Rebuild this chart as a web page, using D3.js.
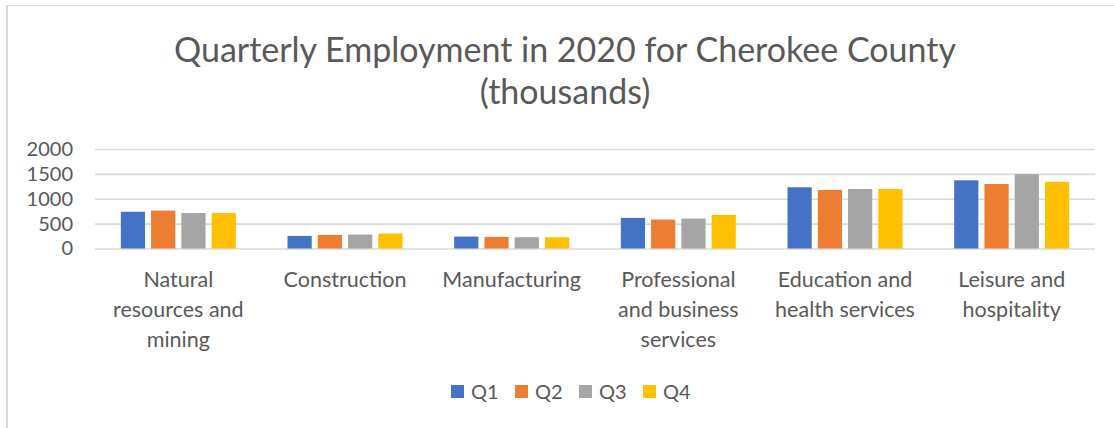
<!DOCTYPE html>
<html>
<head>
<meta charset="utf-8">
<script src="https://cdn.jsdelivr.net/npm/d3@7"></script>
<style>
  body { margin: 0; background: #fff; }
  svg { display: block; font-family: Lato, "Open Sans", sans-serif; }
</style>
</head>
<body>
<svg id="chart" width="1114" height="428"></svg>
<script>
// Employment by industry, thousands, per quarter of 2020
const categories = [
  "Natural resources and mining",
  "Construction",
  "Manufacturing",
  "Professional and business services",
  "Education and health services",
  "Leisure and hospitality"
];
const categoryLines = [
  ["Natural", "resources and", "mining"],
  ["Construction"],
  ["Manufacturing"],
  ["Professional", "and business", "services"],
  ["Education and", "health services"],
  ["Leisure and", "hospitality"]
];
const quarters = ["Q1", "Q2", "Q3", "Q4"];
const q1 = [738, 253, 240, 615, 1231, 1371];
const q2 = [762, 273, 233, 582, 1177, 1296];
const q3 = [713, 280, 227, 602, 1197, 1493];
const q4 = [712, 300, 227, 676, 1197, 1340];
const yTicks = [0, 500, 1000, 1500, 2000];
const titleLines = ["Quarterly Employment in 2020 for Cherokee County", "(thousands)"];
const colors = ["#4472C4", "#ED7D31", "#A5A5A5", "#FFC000"];

const series = [q1, q2, q3, q4];
const textColor = "#595959";
const gridColor = "#d9d9d9";

const svg = d3.select("#chart");

// chart frame
svg.append("line").attr("x1", 6).attr("x2", 1114).attr("y1", 5.5).attr("y2", 5.5)
  .attr("stroke", gridColor).attr("stroke-width", 1);
svg.append("line").attr("x1", 7).attr("x2", 7).attr("y1", 5).attr("y2", 428)
  .attr("stroke", gridColor).attr("stroke-width", 2);

const plot = { left: 95, right: 1095, top: 149, bottom: 248.5 };

const x0 = d3.scaleBand().domain(categories)
  .range([plot.left, plot.right]).paddingInner(0.31).paddingOuter(0.155);
const x1 = d3.scaleBand().domain(quarters)
  .range([0, x0.bandwidth()]).paddingInner(0.2);
const y = d3.scaleLinear().domain([0, 2000]).range([plot.bottom, plot.top]);

// title
const centerX = 565;
svg.append("text")
  .attr("text-anchor", "middle")
  .attr("fill", textColor)
  .attr("font-size", 34)
  .selectAll("tspan").data(titleLines).join("tspan")
  .attr("x", centerX)
  .attr("y", (d, i) => 62 + i * 42)
  .text(d => d);

// value axis with gridlines
const yAxis = svg.append("g")
  .attr("transform", `translate(${plot.left},0)`)
  .call(d3.axisLeft(y).tickValues(yTicks).tickSize(-(plot.right - plot.left)).tickPadding(22).tickFormat(d3.format("d")));
yAxis.select(".domain").remove();
yAxis.selectAll(".tick line").attr("stroke", gridColor).attr("stroke-width", 1.6);
yAxis.selectAll(".tick text")
  .attr("fill", textColor).attr("font-size", 20).attr("font-family", "Lato, sans-serif");

// bars
const groups = svg.append("g").selectAll("g").data(categories).join("g")
  .attr("transform", d => `translate(${x0(d)},0)`);
groups.selectAll("rect")
  .data((c, ci) => quarters.map((q, qi) => ({ q, value: series[qi][ci], color: colors[qi] })))
  .join("rect")
  .attr("x", d => x1(d.q))
  .attr("width", x1.bandwidth())
  .attr("y", d => y(d.value))
  .attr("height", d => y(0) - y(d.value))
  .attr("fill", d => d.color);

// category axis
const xAxis = svg.append("g")
  .attr("transform", `translate(0,${plot.bottom})`)
  .call(d3.axisBottom(x0).tickSize(0).tickPadding(0));
xAxis.select(".domain").remove();
xAxis.selectAll(".tick text").each(function (d) {
  const lines = categoryLines[categories.indexOf(d)];
  const t = d3.select(this).text(null)
    .attr("fill", textColor).attr("font-size", 21.5).attr("font-family", "Lato, sans-serif")
    .attr("y", 0).attr("dy", null);
  t.selectAll("tspan").data(lines).join("tspan")
    .attr("x", 0)
    .attr("y", (l, i) => 38.5 + i * 30)
    .text(l => l);
});

// legend
const legendX = d3.scaleBand().domain(quarters).range([451, 451 + 4 * 64]);
const legend = svg.append("g").selectAll("g").data(quarters).join("g")
  .attr("transform", d => `translate(${legendX(d)},385)`);
legend.append("rect").attr("width", 13).attr("height", 13)
  .attr("fill", (d, i) => colors[i]);
legend.append("text").attr("x", 20).attr("y", 13.5)
  .attr("fill", textColor).attr("font-size", 20)
  .text(d => d);
</script>
</body>
</html>
